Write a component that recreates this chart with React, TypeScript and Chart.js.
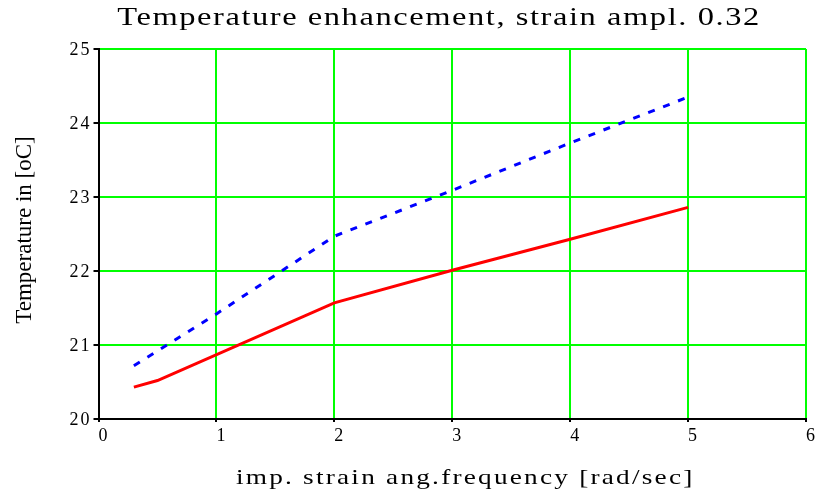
import React, { useEffect, useRef } from "react";
import { Chart, registerables } from "chart.js";

Chart.register(...registerables);

const titleText = "Temperature enhancement, strain ampl. 0.32";
const xTitle = "imp. strain ang.frequency [rad/sec]";
const yTitle = "Temperature in [oC]";

const redX = [0.3, 0.5, 2, 3, 4, 5];
const redY = [20.43, 20.52, 21.57, 22.01, 22.43, 22.86];
const blueX = [0.3, 1, 2, 3, 4, 5];
const blueY = [20.72, 21.42, 22.47, 23.09, 23.73, 24.35];

const xMin = 0, xMax = 6, xStep = 1;
const yMin = 20, yMax = 25, yStep = 1;

const SERIF = "'Liberation Serif', 'Times New Roman', serif";

// wraps a draw method: letter spacing, horizontal stretch around the element centre, shift
function patch(obj: any, method: string, spacing: string, sx: number, dx: number, dy: number) {
  const key = "__patched_" + method;
  if (!obj || obj[key]) return;
  const orig = obj[method];
  obj[method] = function (...args: any[]) {
    const ctx = this.ctx as CanvasRenderingContext2D;
    const cx = (this.left + this.right) / 2;
    ctx.save();
    ctx.translate(cx + dx, dy);
    ctx.scale(sx, 1);
    ctx.translate(-cx, 0);
    (ctx as any).letterSpacing = spacing;
    try {
      return orig.apply(this, args);
    } finally {
      ctx.restore();
    }
  };
  obj[key] = true;
}

const textPlugin = {
  id: "textPlugin",
  beforeDraw(chart: any) {
    patch(chart.titleBlock, "draw", "1.2px", 1.3, 36, 0);
    const xs = chart.scales.x;
    const ys = chart.scales.y;
    patch(xs, "drawTitle", "1.7px", 1.3, 13, 0);
    patch(xs, "drawLabels", "1px", 1, 5, 1);
    patch(ys, "drawLabels", "2px", 1, 0, 1);
    patch(ys, "drawTitle", "0px", 1, 0, -4);
  },
};

export default function App() {
  const ref = useRef<HTMLCanvasElement | null>(null);
  useEffect(() => {
    if (!ref.current) return;
    const chart = new Chart(ref.current, {
      type: "line",
      data: {
        datasets: [
          {
            label: "blue",
            data: blueX.map((x, i) => ({ x, y: blueY[i] })),
            borderColor: "#0000ff",
            borderWidth: 3,
            borderDash: [7, 9],
            pointRadius: 0,
            fill: false,
            tension: 0,
          },
          {
            label: "red",
            data: redX.map((x, i) => ({ x, y: redY[i] })),
            borderColor: "#ff0000",
            borderWidth: 3,
            pointRadius: 0,
            fill: false,
            tension: 0,
          },
        ],
      },
      plugins: [textPlugin],
      options: {
        responsive: false,
        animation: false,
        layout: { padding: { left: 0, right: 12, top: 0, bottom: 0 } },
        plugins: {
          legend: { display: false },
          tooltip: { enabled: false },
          title: {
            display: true,
            text: titleText,
            color: "#000",
            font: { family: SERIF, size: 25, weight: "normal" },
            padding: { top: 3, bottom: 16 },
          },
        },
        scales: {
          x: {
            type: "linear",
            min: xMin,
            max: xMax,
            afterFit: (s: any) => {
              s.height = 78;
            },
            ticks: {
              stepSize: xStep,
              color: "#000",
              font: { family: SERIF, size: 18 },
              padding: 2,
              maxRotation: 0,
            },
            grid: {
              color: "#00ff00",
              lineWidth: 2,
              tickColor: "#000",
              tickLength: 3,
            },
            border: { color: "#000", width: 2 },
            title: {
              display: true,
              text: xTitle,
              color: "#000",
              font: { family: SERIF, size: 21 },
              padding: { top: 0, bottom: 6 },
            },
          },
          y: {
            type: "linear",
            min: yMin,
            max: yMax,
            afterFit: (s: any) => {
              s.width = 98.5;
            },
            ticks: {
              stepSize: yStep,
              color: "#000",
              font: { family: SERIF, size: 18 },
              padding: 2,
            },
            grid: {
              color: "#00ff00",
              lineWidth: 2,
              tickColor: "#000",
              tickLength: 5,
            },
            border: { color: "#000", width: 2 },
            title: {
              display: true,
              text: yTitle,
              color: "#000",
              font: { family: SERIF, size: 23 },
              padding: { top: 11, bottom: 0 },
            },
          },
        },
      },
    } as any);
    return () => chart.destroy();
  }, []);
  return (
    <div style={{ position: "absolute", left: 0, top: 0, width: 818, height: 497, background: "#fff" }}>
      <canvas ref={ref} width={818} height={497} style={{ display: "block" }} />
    </div>
  );
}
